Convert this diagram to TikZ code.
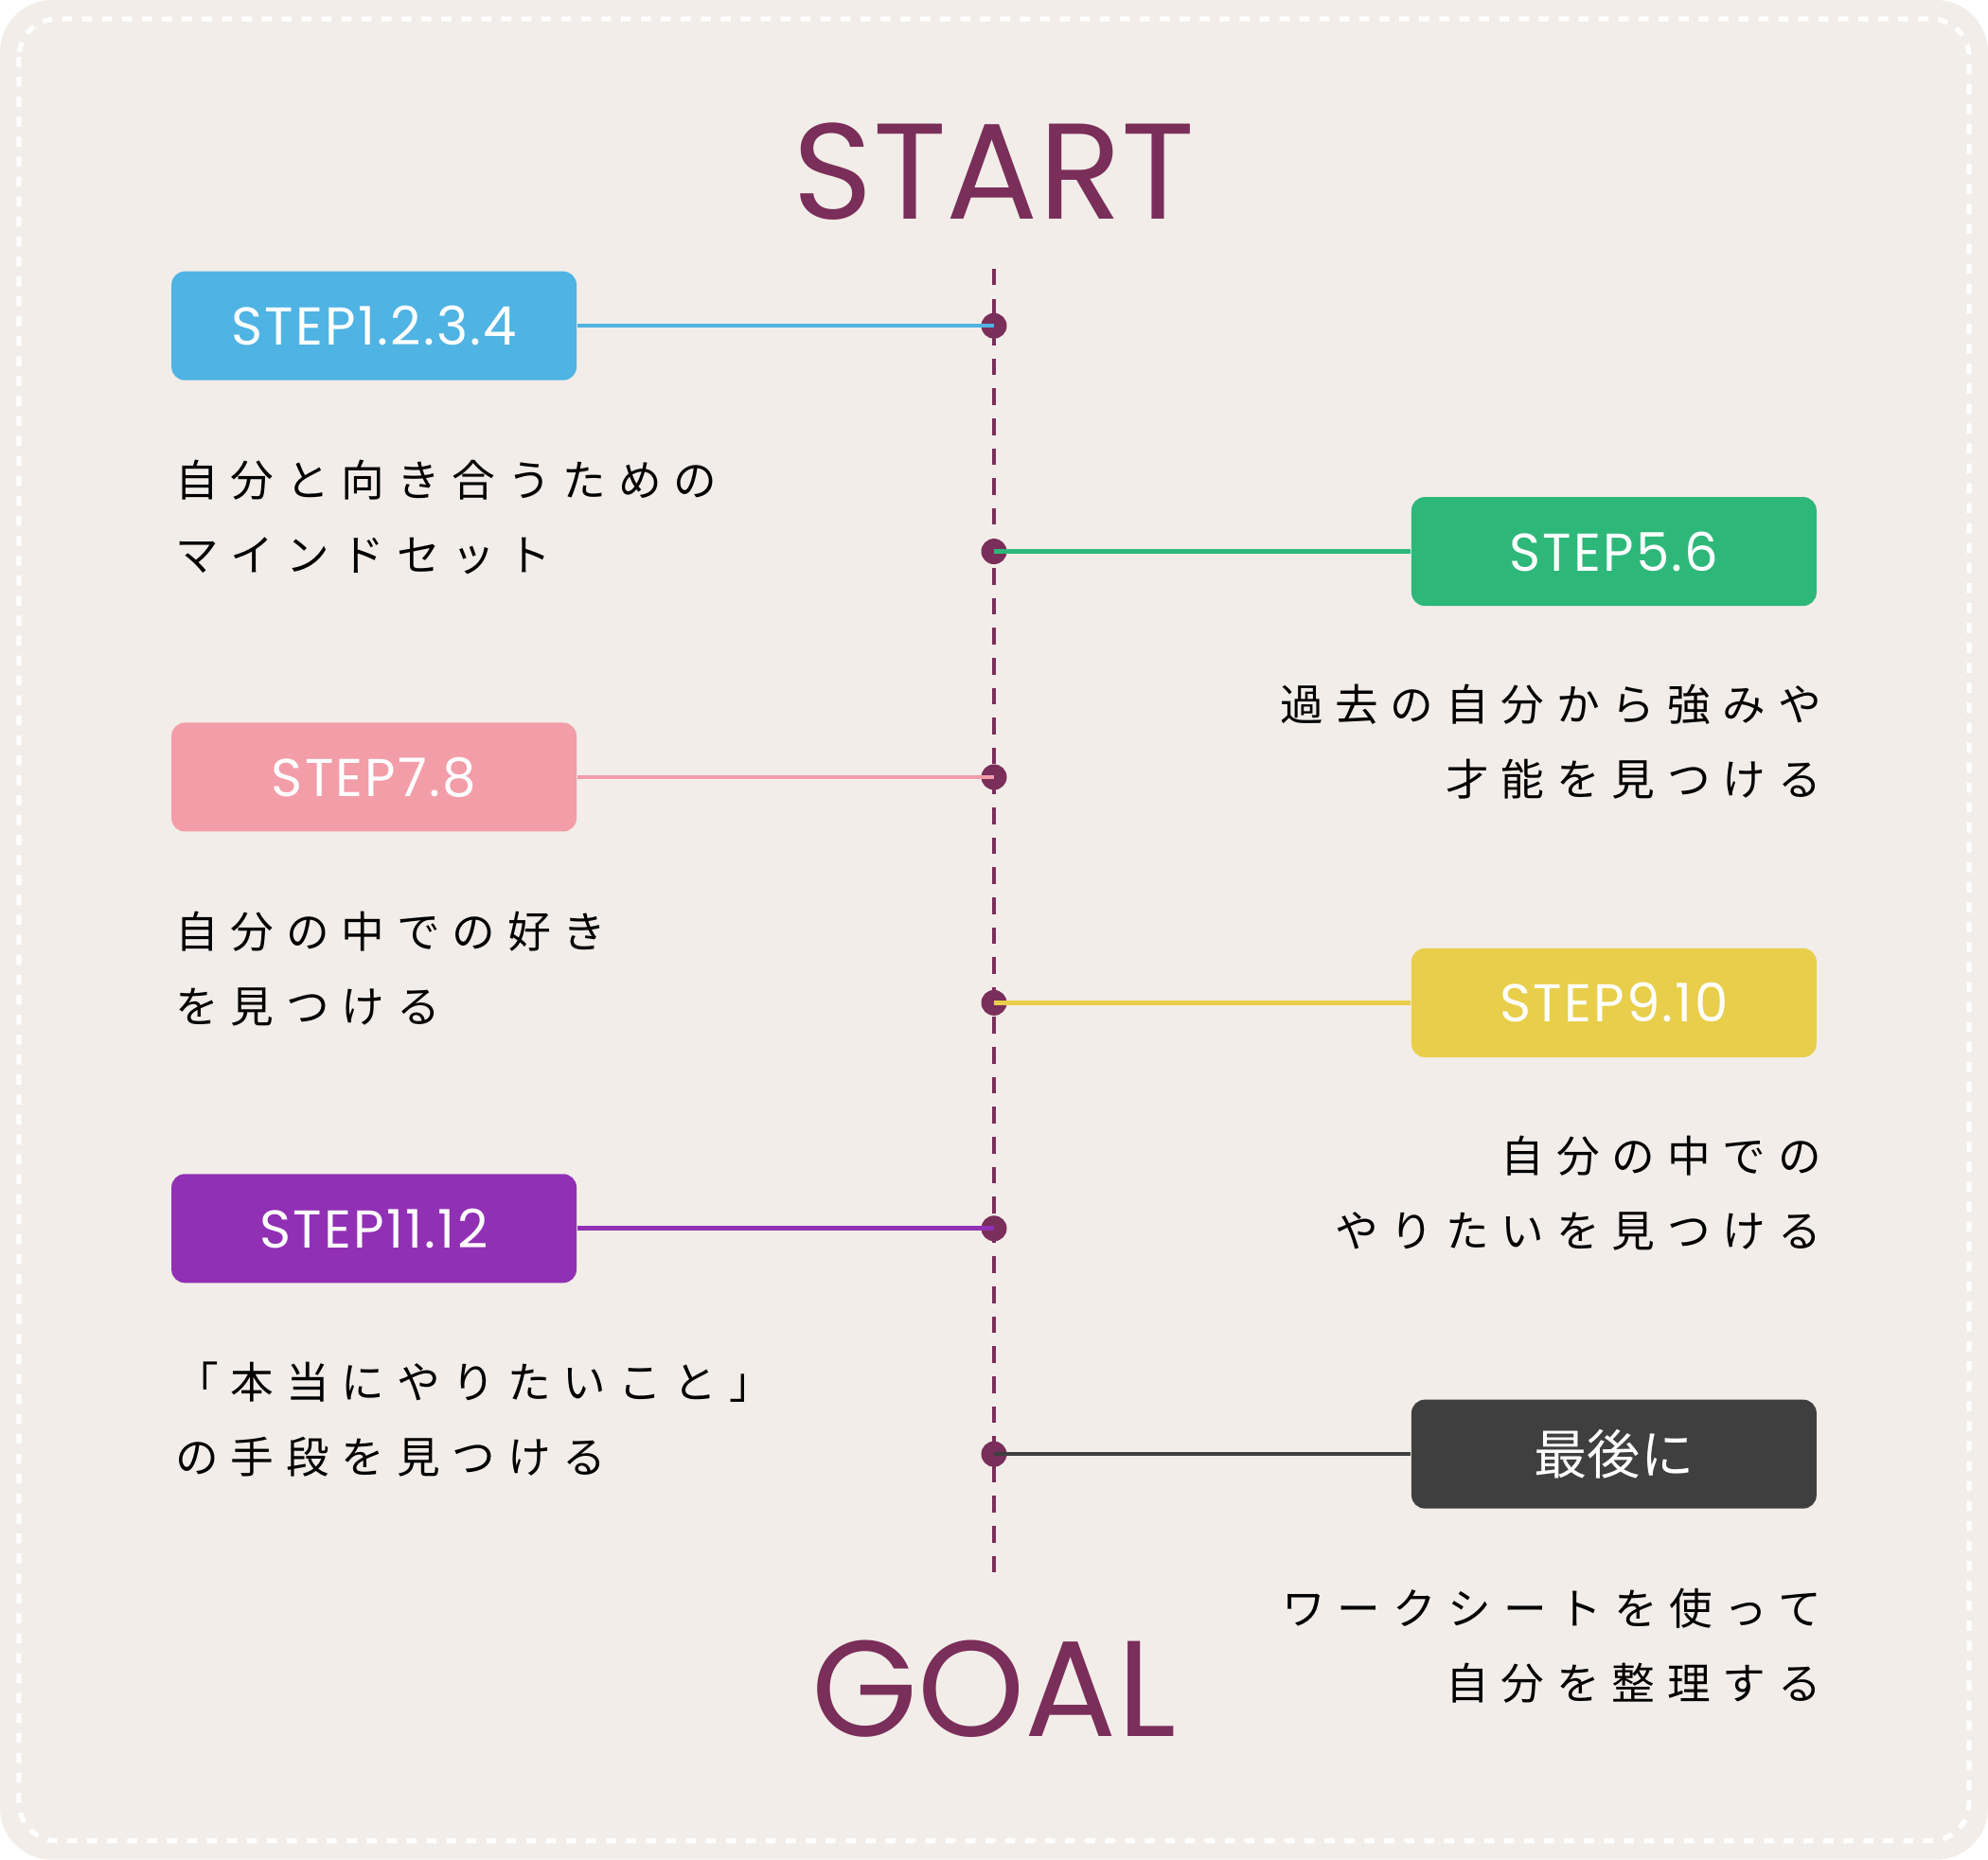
\documentclass[tikz,border=0pt]{standalone}
\usepackage{fontspec}
\usetikzlibrary{positioning}
\newfontfamily\jpfont[LetterSpace=28]{Noto Sans CJK JP}
\newfontfamily\jplabel{Noto Sans CJK JP}
\newfontfamily\latfont[LetterSpace=4]{Poppins}
\newfontfamily\titlefont{Poppins}
\definecolor{bgc}{HTML}{F2EDE8}
\definecolor{wine}{HTML}{7A2E5A}
\definecolor{cblue}{HTML}{4FB3E3}
\definecolor{cgreen}{HTML}{2DB87A}
\definecolor{cpink}{HTML}{F29DA8}
\definecolor{cyellow}{HTML}{E8CE4A}
\definecolor{cpurple}{HTML}{9130B5}
\definecolor{cdark}{HTML}{3F3F3F}
\tikzset{
  stepbox/.style={rounded corners=4pt, minimum width=4.28cm, minimum height=1.15cm,
    text=white, font=\latfont\fontsize{16}{20}\selectfont},
  desc/.style={font=\jpfont\fontsize{13}{22.5}\selectfont, inner sep=0pt},
  dot/.style={circle, fill=wine, inner sep=0pt, minimum size=0.27cm},
  title/.style={text=wine, font=\titlefont\fontsize{41}{50}\selectfont}
}
\begin{document}
\begin{tikzpicture}[x=0.01339cm, y=-0.01339cm]
\fill[bgc, rounded corners=0.55cm] (0,0) rectangle (1568,1467);
\draw[white, line width=1.5pt, dashed, rounded corners=0.4cm] (15,15) rectangle (1553,1452);
\node[title] (start) at (784,135) {START};
\node[title] (goal) at (784,1332) {GOAL};
\coordinate (top) at (784,212);
\coordinate (bot) at (784,1245);
\draw[wine, line width=1.3pt, dash pattern=on 5pt off 4pt] (top) -- (bot);
% steps
\node[stepbox, fill=cblue] (s1) at (295,257) {STEP1.2.3.4};
\node[stepbox, fill=cgreen] (s2) at (1273,435) {STEP5.6};
\node[stepbox, fill=cpink] (s3) at (295,613) {STEP7.8};
\node[stepbox, fill=cyellow] (s4) at (1273,791) {STEP9.10};
\node[stepbox, fill=cpurple] (s5) at (295,969) {STEP11.12};
\node[stepbox, fill=cdark, font=\jplabel\fontsize{16}{20}\selectfont] (s6) at (1273,1147) {最後に};
\node[dot] (d1) at (784,257) {};
\node[dot] (d2) at (784,435) {};
\node[dot] (d3) at (784,613) {};
\node[dot] (d4) at (784,791) {};
\node[dot] (d5) at (784,969) {};
\node[dot] (d6) at (784,1147) {};
\draw[cblue, line width=1.3pt] (s1.east) -- (d1.center);
\draw[cgreen, line width=1.3pt] (s2.west) -- (d2.center);
\draw[cpink, line width=1.3pt] (s3.east) -- (d3.center);
\draw[cyellow, line width=1.3pt] (s4.west) -- (d4.center);
\draw[cpurple, line width=1.3pt] (s5.east) -- (d5.center);
\draw[cdark, line width=1.3pt] (s6.west) -- (d6.center);
% descriptions
\node[desc, align=left, anchor=west] (t1) at (138,408) {自分と向き合うための\\マインドセット};
\node[desc, align=right, anchor=east] (t2) at (1437,585) {過去の自分から強みや\\才能を見つける};
\node[desc, align=left, anchor=west] (t3) at (138,764) {自分の中での好き\\を見つける};
\node[desc, align=right, anchor=east] (t4) at (1437,941) {自分の中での\\やりたいを見つける};
\node[desc, align=left, anchor=west] (t5) at (138,1120) {「本当にやりたいこと」\\の手段を見つける};
\node[desc, align=right, anchor=east] (t6) at (1437,1298) {ワークシートを使って\\自分を整理する};
\end{tikzpicture}
\end{document}
